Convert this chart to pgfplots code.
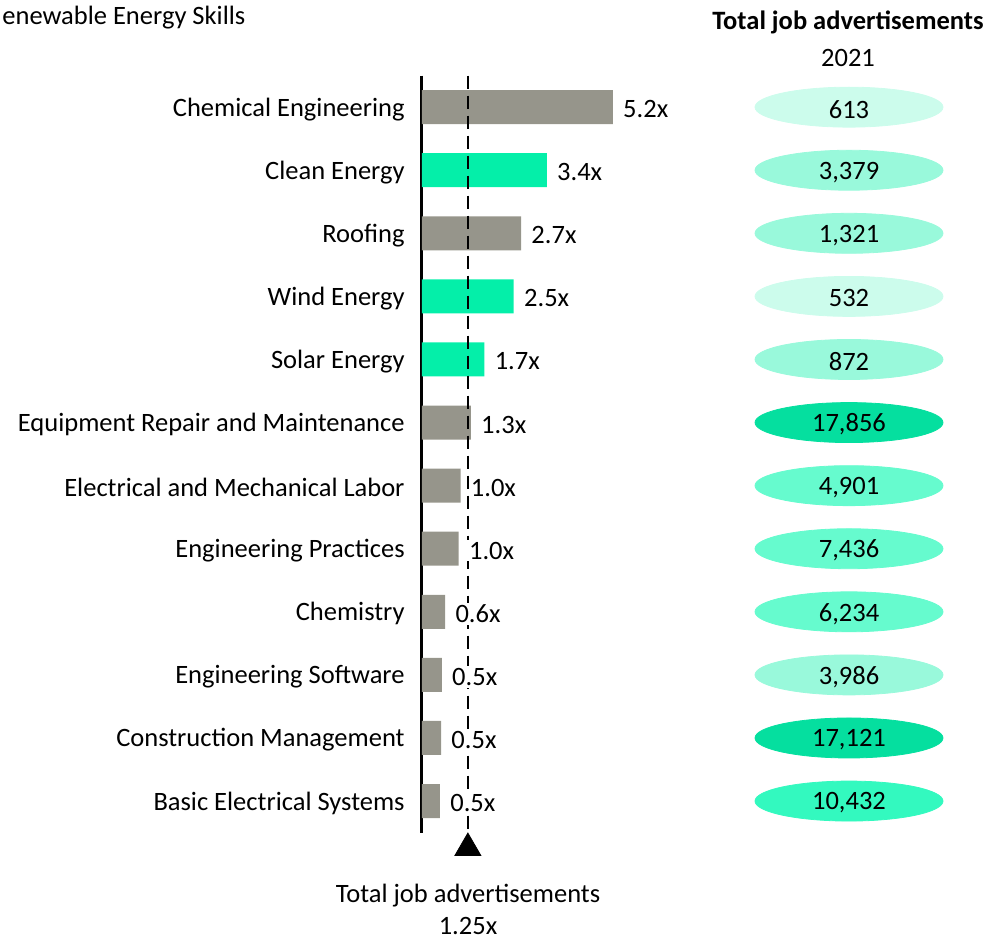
\documentclass[border=0pt]{standalone}
\usepackage{fontspec}
\setmainfont{Carlito}
\usepackage{pgfplots}
\pgfplotsset{compat=1.18}
\usepackage{pgfplotstable}
\definecolor{barg}{RGB}{150,149,139}
\definecolor{barn}{RGB}{4,239,169}
\definecolor{c1}{RGB}{204,252,236}
\definecolor{c2}{RGB}{153,249,219}
\definecolor{c3}{RGB}{102,251,206}
\definecolor{c4}{RGB}{51,249,191}
\definecolor{c5}{RGB}{5,223,159}

\pgfplotstableread{
row val lab
0 5.2 5.2x
2 2.7 2.7x
5 1.33 1.3x
6 1.05 1.0x
7 1.0 1.0x
8 0.63 0.6x
9 0.54 0.5x
10 0.52 0.5x
11 0.49 0.5x
}\grayrows
\pgfplotstableread{
row val lab
1 3.4 3.4x
3 2.5 2.5x
4 1.7 1.7x
}\greenrows
\pgfplotstableread{
row pos lab
0 849 613
1 849 3,379
2 849 1,321
3 849 532
4 849 872
5 849 17,856
6 849 4,901
7 849 7,436
8 849 6,234
9 849 3,986
10 849 17,121
11 849 10,432
}\jobs

\begin{document}
\fontsize{13.25pt}{16pt}\selectfont
\begin{tikzpicture}
\path[use as bounding box] (0,0) rectangle (496pt,469.5pt);
\begin{axis}[
  at={(211pt,53.2pt)}, anchor=south west,
  scale only axis, width=110.1pt, height=378.5pt,
  xmin=0, xmax=6, ymin=-0.5, ymax=11.5, y dir=reverse,
  axis x line=none, axis y line=left,
  y axis line style={-, line width=1.5pt, black},
  ytick={0,...,11},
  yticklabels={Chemical Engineering, Clean Energy, Roofing, Wind Energy, Solar Energy, Equipment Repair and Maintenance, Electrical and Mechanical Labor, Engineering Practices, Chemistry, Engineering Software, Construction Management, Basic Electrical Systems},
  major tick length=0pt,
  yticklabel style={inner sep=0pt, xshift=-8.5pt, yshift=-1pt, anchor=east},
  bar width=17pt,
  clip=false,
]
\addplot[xbar, bar shift=0pt, fill=barg, draw=none] table[x=val, y=row] {\grayrows};
\addplot[xbar, bar shift=0pt, fill=barn, draw=none] table[x=val, y=row] {\greenrows};
\draw[black, line width=1pt, dash pattern=on 6.5pt off 3.5pt] (axis cs:1.25,-0.5) -- (axis cs:1.25,11.5);
\addplot[only marks, mark=triangle*, mark size=7.5pt, black] coordinates {(1.25,11.745)};
\addplot[only marks, mark=none,
  point meta=explicit symbolic,
  nodes near coords,
  nodes near coords style={anchor=west, inner sep=1pt, xshift=4pt, yshift=-1pt, text=black, fill=white}]
  table[x=val, y=row, meta=lab] {\grayrows};
\addplot[only marks, mark=none,
  point meta=explicit symbolic,
  nodes near coords,
  nodes near coords style={anchor=west, inner sep=1pt, xshift=4pt, yshift=-1pt, text=black, fill=white}]
  table[x=val, y=row, meta=lab] {\greenrows};
\end{axis}

\begin{axis}[
  at={(370pt,53.2pt)}, anchor=south west,
  scale only axis, width=110pt, height=378.5pt,
  xmin=740, xmax=960, ymin=-0.5, ymax=11.5, y dir=reverse,
  hide axis, clip=false,
]
\addplot[only marks, mark=*, mark size=10pt, mark options={xscale=4.7, draw=c1, fill=c1}] coordinates {(849,0) (849,3)};
\addplot[only marks, mark=*, mark size=10pt, mark options={xscale=4.7, draw=c2, fill=c2}] coordinates {(849,1) (849,2) (849,4) (849,9)};
\addplot[only marks, mark=*, mark size=10pt, mark options={xscale=4.7, draw=c3, fill=c3}] coordinates {(849,6) (849,7) (849,8)};
\addplot[only marks, mark=*, mark size=10pt, mark options={xscale=4.7, draw=c4, fill=c4}] coordinates {(849,11)};
\addplot[only marks, mark=*, mark size=10pt, mark options={xscale=4.7, draw=c5, fill=c5}] coordinates {(849,5) (849,10)};
\addplot[only marks, mark=none,
  point meta=explicit symbolic,
  nodes near coords,
  nodes near coords style={anchor=center, text=black, inner sep=0pt, yshift=-1pt}]
  table[x=pos, y=row, meta=lab] {\jobs};
\end{axis}

\node[anchor=west, inner sep=0pt] at (1pt,460.5pt) {enewable Energy Skills};
\node[inner sep=0pt, font=\bfseries] at (424pt,458.5pt) {Total job advertisements};
\node[inner sep=0pt] at (424pt,440.5pt) {2021};
\node[inner sep=0pt] at (234pt,21.5pt) {Total job advertisements};
\node[inner sep=0pt] at (234pt,6.5pt) {1.25x};
\end{tikzpicture}
\end{document}
